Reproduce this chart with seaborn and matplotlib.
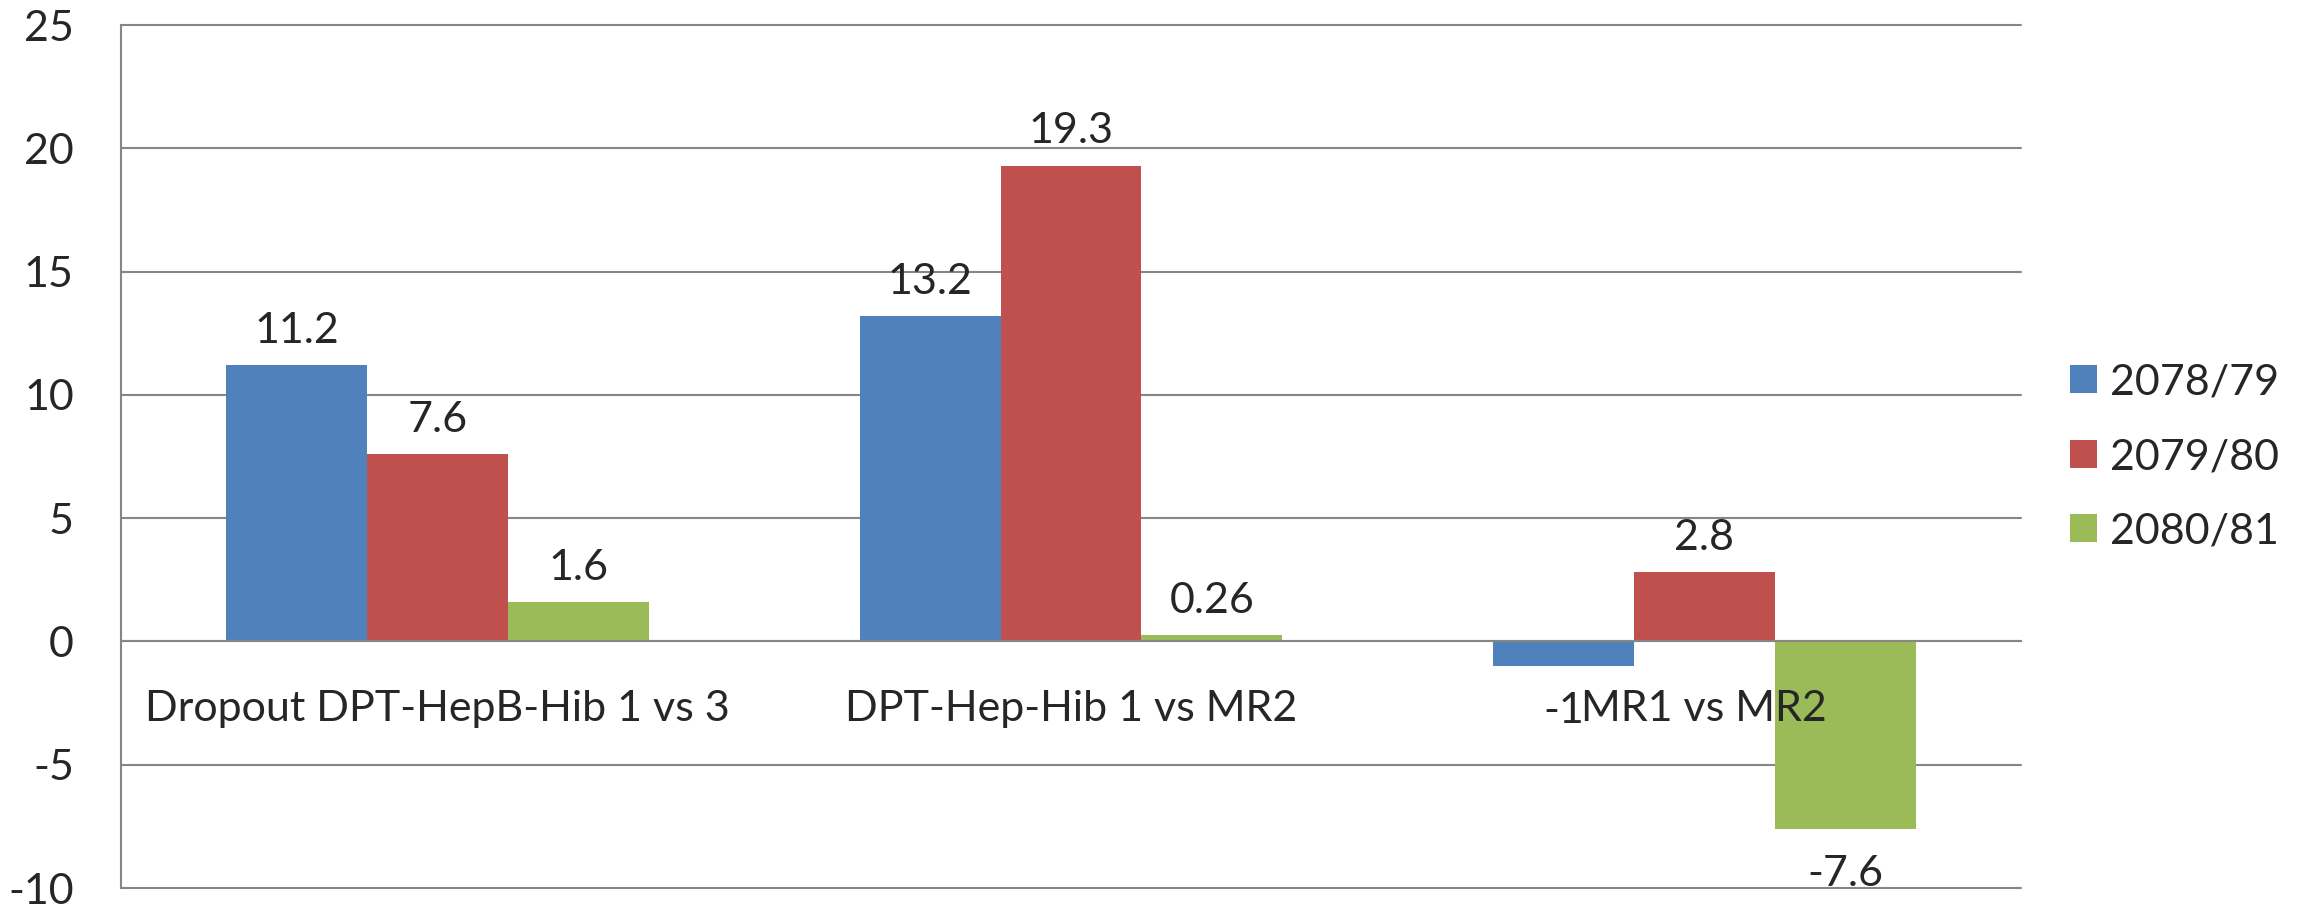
import matplotlib
matplotlib.use("Agg")
import matplotlib.pyplot as plt
import pandas as pd
import seaborn as sns

# ---- data ----
categories = ["Dropout DPT-HepB-Hib 1 vs 3", "DPT-Hep-Hib 1 vs MR2", "MR1 vs MR2"]
years = ["2078/79", "2079/80", "2080/81"]
values_2078_79 = [11.2, 13.2, -1]
values_2079_80 = [7.6, 19.3, 2.8]
values_2080_81 = [1.6, 0.26, -7.6]
y_ticks = [-10, -5, 0, 5, 10, 15, 20, 25]
colors = ["#4F81BD", "#C0504D", "#9BBB59"]

sns.set_style("white")
plt.rcParams["font.family"] = ["Lato", "DejaVu Sans"]
plt.rcParams["axes.unicode_minus"] = False

series = [values_2078_79, values_2079_80, values_2080_81]
rows = []
for yr, vals in zip(years, series):
    for c, v in zip(categories, vals):
        rows.append({"category": c, "year": yr, "value": v})
df = pd.DataFrame(rows)

W, H, DPI = 2308, 909, 100
GRID = "#868686"
FS = 31

fig = plt.figure(figsize=(W / DPI, H / DPI), dpi=DPI)
ax = fig.add_axes([121 / W, 1 - 888 / H, 1900 / W, (888 - 25) / H])

sns.barplot(data=df, x="category", y="value", hue="year", order=categories,
            hue_order=years, palette=colors, saturation=1, width=0.667, gap=0,
            errorbar=None, linewidth=0, ax=ax)

ax.set_xlim(-0.5, len(categories) - 0.5)
ax.set_ylim(y_ticks[0], y_ticks[-1])
ax.set_yticks(y_ticks)
ax.set_yticklabels([str(t) for t in y_ticks])
# gridlines behind the bars, tick labels above them
ax.set_axisbelow(False)
ax.yaxis.grid(False)
for t in y_ticks:
    ax.axhline(t, color=GRID, linewidth=1.5, zorder=0, clip_on=False)

ax.set_xlabel("")
ax.set_ylabel("")

for s in ["top", "right"]:
    ax.spines[s].set_visible(False)
ax.spines["left"].set_color(GRID)
ax.spines["left"].set_linewidth(1.5)
ax.spines["left"].set_zorder(0.5)
ax.spines["bottom"].set_position(("data", 0))
ax.spines["bottom"].set_color(GRID)
ax.spines["bottom"].set_linewidth(1.5)

ax.tick_params(axis="y", length=10, width=1.5, color=GRID, pad=24, labelsize=FS)
ax.tick_params(axis="x", which="major", length=0, pad=35, labelsize=FS)
ax.set_xticks([i - 0.5 for i in range(len(categories) + 1)], minor=True)
ax.tick_params(axis="x", which="minor", length=11, width=1.5, color=GRID)

# data labels
for container, vals in zip(ax.containers, series):
    for patch, v in zip(container.patches, vals):
        xc = patch.get_x() + patch.get_width() / 2
        if v >= 0:
            ax.annotate(f"{v:g}", xy=(xc, v), xytext=(0, 11), textcoords="offset points",
                        ha="center", va="bottom", fontsize=FS)
        else:
            ax.annotate(f"{v:g}", xy=(xc, v), xytext=(0, -19), textcoords="offset points",
                        ha="center", va="top", fontsize=FS)

fs_px = FS * DPI / 72
ax.legend(loc="center left", bbox_to_anchor=(2070 / W, 1 - 457 / H),
          bbox_transform=fig.transFigure, frameon=False, fontsize=FS,
          handlelength=27 / fs_px, handleheight=27 / fs_px, handletextpad=0.3,
          labelspacing=0.85, borderpad=0, borderaxespad=0)

fig.savefig("out.png", dpi=DPI, facecolor="white")
